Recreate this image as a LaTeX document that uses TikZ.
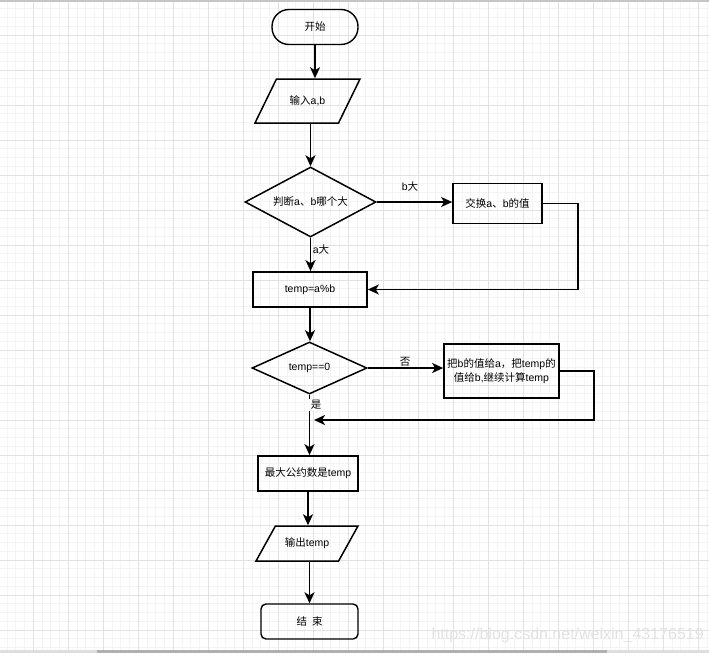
\documentclass[tikz,border=0pt]{standalone}
\usepackage{xcolor}
\usepackage{fontspec}
\setmainfont{Liberation Sans}
\newfontfamily\cjk{Noto Sans CJK SC}
\usepackage{tikz}
\usetikzlibrary{shapes.geometric, positioning, arrows.meta}
\definecolor{gridminor}{RGB}{244,244,244}
\definecolor{gridmajor}{RGB}{226,226,226}
\definecolor{barlight}{RGB}{222,222,222}
\definecolor{bardark}{RGB}{176,176,176}
\definecolor{markgray}{RGB}{226,226,226}

\begin{document}
\begin{tikzpicture}[x=1pt, y=-1pt, every node/.style={font=\fontsize{10.5}{14}\selectfont, text=black}]
		\tikzstyle{term}=[draw=black, line width=1.4pt, rounded corners=17pt, minimum height=35pt, minimum width=86pt, inner sep=0pt]
		\tikzstyle{proc}=[draw=black, line width=1.7pt, minimum height=35pt, inner sep=0pt]
		\tikzstyle{io}=[draw=black, line width=1.5pt, trapezium, trapezium left angle=64, trapezium right angle=116, trapezium stretches body, text height=8pt, text depth=2pt, inner xsep=0pt, inner ysep=17pt, minimum width=105pt]
		\tikzstyle{decide}=[draw=black, line width=1.5pt, diamond, inner sep=0pt]
		\tikzstyle{link}=[draw=black, line width=1.8pt, -{Stealth[length=11pt, width=10pt, inset=3pt]}]
		\tikzstyle{tag}=[inner sep=1pt]
		
		\useasboundingbox (0,0) rectangle (709,653);
		\clip (0,0) rectangle (709,653);
		
		%% grid
		\foreach \x in {0,...,81}
		\draw [gridminor, line width=1pt] ({-1.67+8.75*\x}, 0) -- ++(0,653);
		\foreach \y in {0,...,74}
		\draw [gridminor, line width=1pt] (0, {8.75*\y}) -- ++(709,0);
		\foreach \x in {0,...,20}
		\draw [gridmajor, line width=1pt] ({33.33+35*\x}, 0) -- ++(0,653);
		\foreach \y in {1,...,18}
		\draw [gridmajor, line width=1pt] (0, {35*\y}) -- ++(709,0);
		\fill [gray!45] (0,0) rectangle (709,1.5);
		\fill [barlight] (0,650) rectangle (709,653);
		\fill [bardark] (97,650) rectangle (607,653);
		
		\node [term] (Start) at (315,27) {\cjk 开始};
		\node [io] (In) at (307.5,101) {{\cjk 输入}a,b};
		\draw [link] (Start.south) -- (Start.south |- In.north);
		
		\node [decide, minimum width=131pt, minimum height=70pt, shape aspect=1.9] (Cmp) at (310.5,202) {{\cjk 判断}a{\cjk 、}b{\cjk 哪个大}};
		\draw [link] (Cmp.north |- In.south) -- (Cmp.north);
		
		\node [proc, minimum width=89pt, minimum height=40pt] (Swap) at (497.5,203.5) {{\cjk 交换}a{\cjk 、}b{\cjk 的值}};
		\draw [link] (Cmp.east) -- (Cmp.east -| Swap.west);
		\node [tag] (BBig) at (410,187) {b{\cjk 大}};
		
		\node [proc, minimum width=114pt] (Mod) at (310,289.5) {temp=a\%b};
		\draw [link] (Cmp.south) -- (Cmp.south |- Mod.north);
		\node [tag] (ABig) at (321,250) {a{\cjk 大}};
		\draw [link] (Swap.east) -- ++(35,0) |- (Mod.east);
		
		\node [decide, minimum width=115pt, minimum height=52pt, shape aspect=2.2] (Test) at (309.5,368) {temp==0};
		\draw [link] (Mod.south) -- (Mod.south |- Test.north);
		
		\node [proc, minimum width=115pt, minimum height=54pt, align=center] (Upd) at (501.5,371) {{\cjk 把}b{\cjk 的值给}a{\cjk ，把}temp{\cjk 的}\\{\cjk 值给}b,{\cjk 继续计算}temp};
		\draw [link] (Test.east) -- (Test.east -| Upd.west);
		\node [tag] (No) at (405,362) {\cjk 否};
		
		\node [proc, minimum width=100pt] (Gcd) at (308,473.5) {{\cjk 最大公约数是}temp};
		\draw [link] (Test.south) -- (Test.south |- Gcd.north);
		\node [tag, fill=white, inner xsep=3pt] (Yes) at (316,405) {\cjk 是};
		\coordinate (Join) at (314,420);
		\draw [link] (Upd.east) -- ++(34,0) |- (Join);
		
		\node [io, minimum width=102pt, inner ysep=12.5pt, trapezium left angle=61, trapezium right angle=119] (Out) at (307,543.5) {{\cjk 输出}temp};
		\draw [link] (Gcd.south) -- (Gcd.south |- Out.north);
		
		\node [term, rounded corners=5pt, minimum width=97pt] (End) at (309.5,621.5) {{\cjk 结}\hspace{5pt}{\cjk 束}};
		\draw [link] (Out.south -| End.north) -- (End.north);
		
		\node [text=markgray, font=\fontsize{16}{16}\selectfont, anchor=west] (Mark) at (428,635) {https://blog.csdn.net/weixin\_43176519};
		\end{tikzpicture}
\end{document}
